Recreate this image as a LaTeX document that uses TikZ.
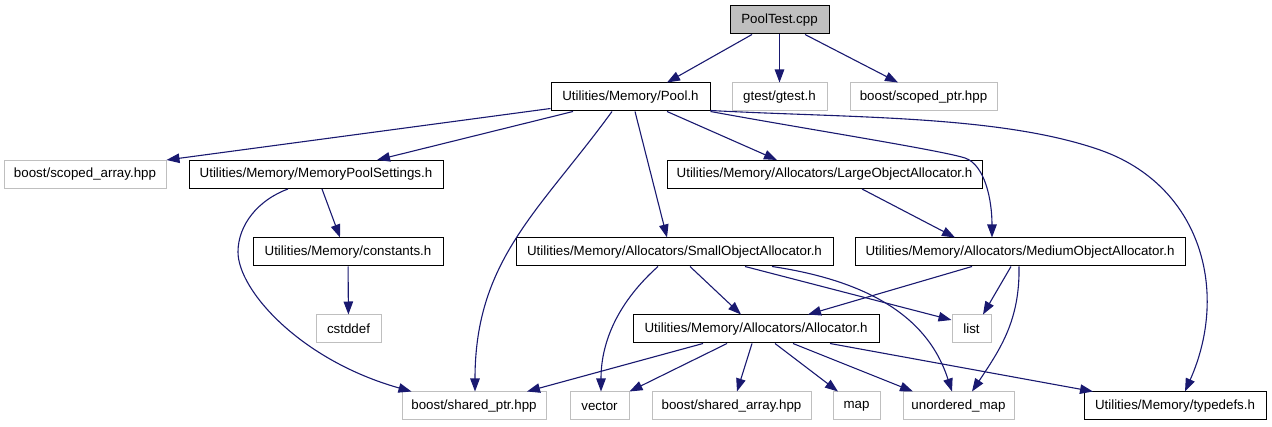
\documentclass[tikz,border=0pt]{standalone}
\usepackage{fontspec}
\setmainfont{Liberation Sans}
\usetikzlibrary{arrows.meta}
\definecolor{edgeblue}{HTML}{191970}
\definecolor{extgray}{HTML}{BFBFBF}

\begin{document}
\begin{tikzpicture}[x=1pt, y=-1pt,
    file/.style = {draw=black, line width=1pt, minimum height=28pt, inner sep=0pt,
                   font=\fontsize{13.33}{16}\selectfont},
    ext/.style = {file, draw=extgray},
    root/.style = {file, fill=extgray},
    inc/.style = {-{Triangle[length=13pt, width=9.5pt]}, color=edgeblue, line width=1.1pt}]
    \useasboundingbox (0,0) rectangle (1272,427);

    % files
    \node[root, minimum width=99pt] (test) at (779.5,20) {PoolTest.cpp};

    \node[file, minimum width=159pt] (pool) at (630.5,97) {Utilities/Memory/Pool.h};
    \node[ext, minimum width=95pt] (gtest) at (779.5,97) {gtest/gtest.h};
    \node[ext, minimum width=147pt] (scopedptr) at (923.5,97) {boost/scoped\_ptr.hpp};

    \node[ext, minimum width=162pt] (scopedarr) at (85,174.5) {boost/scoped\_array.hpp};
    \node[file, minimum width=254pt] (settings) at (316,174.5) {Utilities/Memory/MemoryPoolSettings.h};
    \node[file, minimum width=315pt] (largealloc) at (824.5,174.5) {Utilities/Memory/Allocators/LargeObjectAllocator.h};

    \node[file, minimum width=190pt] (constants) at (348,252) {Utilities/Memory/constants.h};
    \node[file, minimum width=317pt] (smallalloc) at (674.5,252) {Utilities/Memory/Allocators/SmallObjectAllocator.h};
    \node[file, minimum width=330pt] (mediumalloc) at (1020,252) {Utilities/Memory/Allocators/MediumObjectAllocator.h};

    \node[ext, minimum width=65pt] (cstddef) at (348.5,329) {cstddef};
    \node[file, minimum width=246pt] (allocator) at (756,329) {Utilities/Memory/Allocators/Allocator.h};
    \node[ext, minimum width=39pt] (list) at (971.5,329) {list};

    \node[ext, minimum width=144pt] (sharedptr) at (474,406) {boost/shared\_ptr.hpp};
    \node[ext, minimum width=59pt] (vector) at (599.5,406) {vector};
    \node[ext, minimum width=159pt] (sharedarr) at (731.5,406) {boost/shared\_array.hpp};
    \node[ext, minimum width=47pt] (map) at (856.5,406) {map};
    \node[ext, minimum width=111pt] (umap) at (958.5,406) {unordered\_map};
    \node[file, minimum width=182pt] (typedefs) at (1175,406) {Utilities/Memory/typedefs.h};

    % PoolTest.cpp
    \path[inc] ([xshift=-27.5pt]test.south) edge ([xshift=36.5pt]pool.north);
    \path[inc] (test) edge (gtest);
    \path[inc] ([xshift=25.5pt]test.south) edge ([xshift=-25.5pt]scopedptr.north);

    % Pool.h
    \path[inc] ([yshift=3pt]pool.south west) edge (scopedarr.north east);
    \path[inc] ([xshift=-57.5pt]pool.south) edge ([xshift=61pt]settings.north);
    \draw[inc] ([xshift=-18.5pt]pool.south) .. controls +(-72,99) and +(0,-132) .. ([xshift=1pt]sharedptr.north);
    \path[inc] ([xshift=4.5pt]pool.south) edge ([xshift=-7.5pt]smallalloc.north);
    \path[inc] ([xshift=36.5pt]pool.south) edge ([xshift=-47.5pt]largealloc.north);
    \draw[inc] (pool.south east) .. controls (800,128) and (940,150) .. (965,158)
        .. controls (985,165) and (992,200) .. ([xshift=-28pt]mediumalloc.north);
    \draw[inc] ([yshift=1pt]pool.south east) .. controls (850,118) and (1000,115) .. (1100,150)
        .. controls (1200,185) and (1230,290) .. ([xshift=10pt]typedefs.north);

    % MemoryPoolSettings.h
    \path[inc] ([xshift=6pt]settings.south) edge ([xshift=-8pt]constants.north);
    \draw[inc] ([xshift=-28pt]settings.south) .. controls (258,200) and (238,225) .. (238,252)
        .. controls (238,290) and (300,360) .. ([xshift=10pt]sharedptr.north west);

    % constants.h
    \path[inc] (constants) edge (cstddef);

    % LargeObjectAllocator.h
    \path[inc] ([xshift=37.5pt]largealloc.south) edge ([xshift=-65pt]mediumalloc.north);

    % SmallObjectAllocator.h
    \path[inc] ([xshift=15.5pt]smallalloc.south) edge ([xshift=-15pt]allocator.north);
    \draw[inc] ([xshift=-16.5pt]smallalloc.south) .. controls +(-38,34) and +(0,-52) .. ([xshift=1.5pt]vector.north);
    \path[inc] ([xshift=70.5pt]smallalloc.south) edge ([yshift=9pt]list.west);
    \draw[inc] ([xshift=97.5pt]smallalloc.south) .. controls +(128,19) and +(-17,-52) .. ([xshift=-6.5pt]umap.north);

    % MediumObjectAllocator.h
    \path[inc] ([xshift=-48pt]mediumalloc.south) edge ([xshift=52pt]allocator.north);
    \path[inc] ([xshift=-9pt]mediumalloc.south) edge ([xshift=11.5pt]list.north);
    \draw[inc] ([xshift=-1pt]mediumalloc.south) .. controls +(1,54) and +(28,-42) .. ([xshift=13.5pt]umap.north);

    % Allocator.h
    \path[inc] ([xshift=-53pt]allocator.south) edge ([xshift=53pt]sharedptr.north);
    \path[inc] ([xshift=-29pt]allocator.south) edge (vector.north east);
    \path[inc] ([xshift=-4pt]allocator.south) edge ([xshift=5.5pt]sharedarr.north);
    \path[inc] ([xshift=19pt]allocator.south) edge ([xshift=-18.5pt]map.north);
    \path[inc] ([xshift=37pt]allocator.south) edge ([xshift=-45.5pt]umap.north);
    \path[inc] ([xshift=74pt]allocator.south) edge ([xshift=-82pt]typedefs.north);
\end{tikzpicture}
\end{document}
